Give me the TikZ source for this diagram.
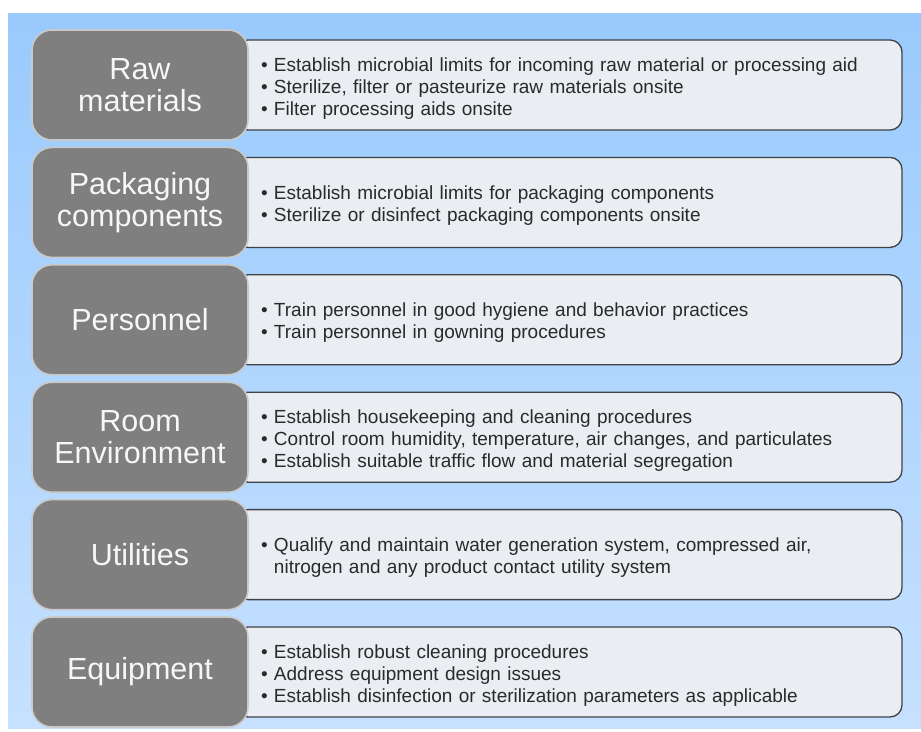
\documentclass[tikz,border=0pt]{standalone}
\usepackage{fontspec}
\setmainfont{Liberation Sans}
\definecolor{skytop}{HTML}{99CAFD}
\definecolor{skybot}{HTML}{C6E1FF}
\definecolor{catfill}{HTML}{7F7F7F}
\definecolor{catline}{HTML}{C9C9C9}
\definecolor{listfill}{HTML}{EAEDF1}
\definecolor{listline}{HTML}{3F4246}
\definecolor{listtext}{HTML}{2A2A2A}
\newcommand{\itm}{\rule{0pt}{20pt}\textbullet\ }
\begin{document}
\begin{tikzpicture}[x=1pt,y=-1pt]
\tikzstyle{cat}=[draw=catline, line width=1.6pt, fill=catfill, rounded corners=20pt,
  minimum width=216pt, minimum height=110pt, inner sep=0pt, align=center,
  text=white!94!gray, font=\fontsize{30.5}{32}\selectfont]
\tikzstyle{list}=[draw=listline, line width=1.3pt, fill=listfill, rounded corners=12pt,
  minimum width=666pt, minimum height=90pt, inner xsep=25pt, inner ysep=0pt,
  text width=616pt, align=left, text=listtext, font=\fontsize{19}{22}\selectfont]
\useasboundingbox (0,0) rectangle (921,731);
\shade [top color=skytop, bottom color=skybot] (8,13) rectangle (921,728);
\node[list] (rawlist) at (569,85) {\itm Establish microbial limits for incoming raw material or processing aid\\
\textbullet\ Sterilize, filter or pasteurize raw materials onsite\\
\textbullet\ Filter processing aids onsite};
\node[list] (packlist) at (569,202.4) {\itm Establish microbial limits for packaging components\\
\textbullet\ Sterilize or disinfect packaging components onsite};
\node[list] (perslist) at (569,319.8) {\itm Train personnel in good hygiene and behavior practices\\
\textbullet\ Train personnel in gowning procedures};
\node[list] (roomlist) at (569,437.2) {\itm Establish housekeeping and cleaning procedures\\
\textbullet\ Control room humidity, temperature, air changes, and particulates\\
\textbullet\ Establish suitable traffic flow and material segregation};
\node[list] (utillist) at (569,554.6) {\itm Qualify and maintain water generation system, compressed air,\\
\phantom{\textbullet\ }nitrogen and any product contact utility system};
\node[list] (equiplist) at (569,672) {\itm Establish robust cleaning procedures\\
\textbullet\ Address equipment design issues\\
\textbullet\ Establish disinfection or sterilization parameters as applicable};
\node[cat] (raw) at (140,85) {Raw\\materials};
\node[cat] (pack) at (140,202.4) {Packaging\\components};
\node[cat] (pers) at (140,319.8) {Personnel};
\node[cat] (room) at (140,437.2) {Room\\Environment};
\node[cat] (util) at (140,554.6) {Utilities};
\node[cat] (equip) at (140,672) {Equipment};
\end{tikzpicture}
\end{document}
